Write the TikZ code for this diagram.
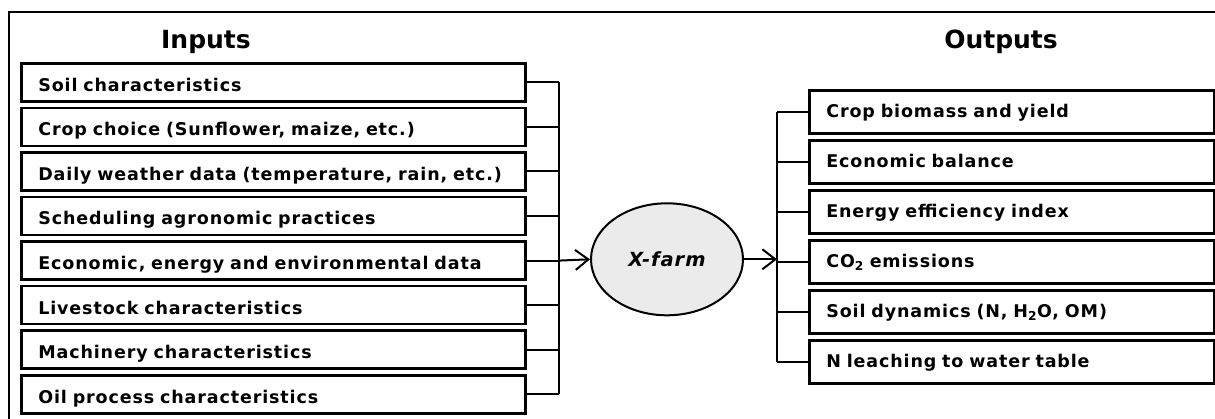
\documentclass[tikz,border=0pt]{standalone}
\usepackage{fontspec}
\setmainfont{DejaVu Sans}[LetterSpace=5]
\usetikzlibrary{shapes.geometric,arrows.meta}

\tikzset{
  inbox/.style={draw,line width=2.6pt,anchor=north west,minimum width=504pt,minimum height=38pt,
    inner xsep=17pt,inner ysep=0pt,text width=470pt,align=left,text height=18pt,text depth=0pt,
    font=\bfseries\fontsize{17.5}{19}\selectfont},
  outbox/.style={inbox,minimum width=405pt,minimum height=43pt,text width=371pt,text height=12pt},
  head/.style={font=\bfseries\fontsize{25}{29}\selectfont\addfontfeatures{LetterSpace=0}},
  link/.style={line width=2pt},
  feed/.style={line width=2pt,-{Straight Barb[length=13pt,width=20pt,line width=2pt]}}
}

\begin{document}
\begin{tikzpicture}[x=1pt,y=-1pt]
\useasboundingbox (0,0) rectangle (1215,419);
\draw[line width=2pt] (9,430) -- (9,12) -- (1225,12);
\node[head] (inputs) at (206,42) {Inputs};
\node[head] (outputs) at (1001,42) {Outputs};
% inputs
\node[inbox] (in1) at (20,62) {Soil characteristics};
\node[inbox] (in2) at (20,106.6) {Crop choice (Sunflower, maize, etc.)};
\node[inbox] (in3) at (20,151.1) {Daily weather data (temperature, rain, etc.)};
\node[inbox] (in4) at (20,195.7) {Scheduling agronomic practices};
\node[inbox] (in5) at (20,240.3) {Economic, energy and environmental data};
\node[inbox] (in6) at (20,284.9) {Livestock characteristics};
\node[inbox] (in7) at (20,329.4) {Machinery characteristics};
\node[inbox] (in8) at (20,374) {Oil process characteristics};
\coordinate (inbus) at (559,0);
% model
\node[ellipse,draw,line width=2pt,fill=black!8,minimum width=152pt,minimum height=112pt,
  font=\bfseries\itshape\fontsize{19.5}{22}\selectfont] (xfarm) at (667,259.3) {X-farm};
% outputs
\node[outbox] (out1) at (808,89) {Crop biomass and yield};
\node[outbox] (out2) at (808,139) {Economic balance};
\node[outbox] (out3) at (808,189) {Energy efficiency index};
\node[outbox] (out4) at (808,239) {CO\textsubscript{2} emissions};
\node[outbox] (out5) at (808,289) {Soil dynamics (N, H\textsubscript{2}O, OM)};
\node[outbox] (out6) at (808,339) {N leaching to water table};
\coordinate (outbus) at (777,0);
\foreach \i in {1,...,8}
  \draw[link] (in\i.east) -- (in\i.east -| inbus);
\draw[link] (in1.east -| inbus) -- (in8.east -| inbus);
\draw[feed] (in5.east -| inbus) -- (xfarm.west);
\draw[feed] (xfarm.east) -- (xfarm.east -| outbus);
\foreach \i in {1,...,6}
  \draw[link] (out\i.west) -- (out\i.west -| outbus);
\draw[link] (out1.west -| outbus) -- (out6.west -| outbus);
\end{tikzpicture}
\end{document}
